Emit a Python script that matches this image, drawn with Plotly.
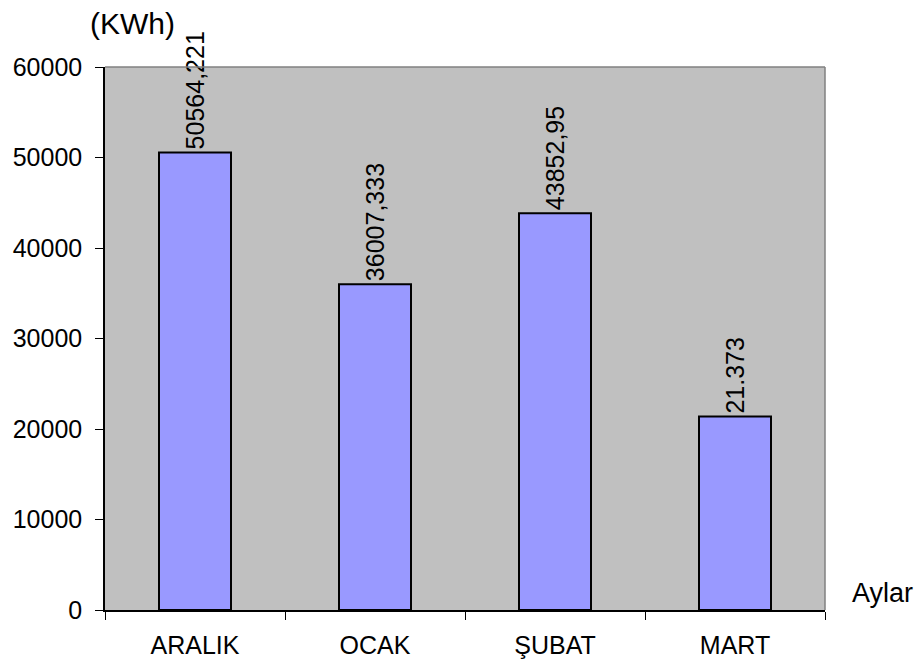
import plotly.graph_objects as go

# Monthly energy consumption
months = ["ARALIK", "OCAK", "ŞUBAT", "MART"]
consumption = [50564.221, 36007.333, 43852.95, 21373]
value_labels = ["50564,221", "36007,333", "43852,95", "21.373"]
y_ticks = [0, 10000, 20000, 30000, 40000, 50000, 60000]

FONT = "Liberation Sans, Arial, sans-serif"

fig = go.Figure(
    go.Bar(
        x=months,
        y=consumption,
        width=0.4,
        marker=dict(color="#9999FF", line=dict(color="black", width=2)),
        text=value_labels,
        textposition="outside",
        textangle=-90,
        constraintext="none",
        cliponaxis=False,
        textfont=dict(family=FONT, size=25, color="black"),
        hoverinfo="skip",
    )
)

fig.update_layout(
    width=920,
    height=671,
    margin=dict(l=105, r=95, t=67, b=59),
    paper_bgcolor="white",
    plot_bgcolor="#C0C0C0",
    showlegend=False,
    font=dict(family=FONT, size=25, color="black"),
    xaxis=dict(
        showline=True,
        linecolor="black",
        linewidth=1.5,
        ticks="outside",
        tickson="boundaries",
        ticklen=8,
        tickcolor="black",
        ticklabelstandoff=12,
        showgrid=False,
        tickfont=dict(family=FONT, size=25),
    ),
    yaxis=dict(
        range=[0, 60000],
        tickvals=y_ticks,
        tickformat="d",
        showline=True,
        linecolor="black",
        linewidth=1.5,
        ticks="outside",
        ticklen=8,
        tickcolor="black",
        ticklabelstandoff=8,
        showgrid=False,
        zeroline=False,
        tickfont=dict(family=FONT, size=25),
    ),
    shapes=[
        dict(type="line", xref="paper", yref="paper", x0=0, x1=1, y0=1, y1=1,
             line=dict(color="#808080", width=1.5)),
        dict(type="line", xref="paper", yref="paper", x0=1, x1=1, y0=0, y1=1,
             line=dict(color="#808080", width=1.5)),
    ],
    annotations=[
        dict(text="(KWh)", xref="paper", yref="paper", x=-0.0236, y=1.0,
             xanchor="left", yanchor="middle", yshift=44, showarrow=False,
             font=dict(family=FONT, size=30)),
        dict(text="Aylar", xref="paper", yref="paper", x=1.0, y=0.0,
             xanchor="left", yanchor="middle", xshift=25, yshift=17, showarrow=False,
             font=dict(family=FONT, size=27)),
    ],
)

fig.write_html("out.html")
